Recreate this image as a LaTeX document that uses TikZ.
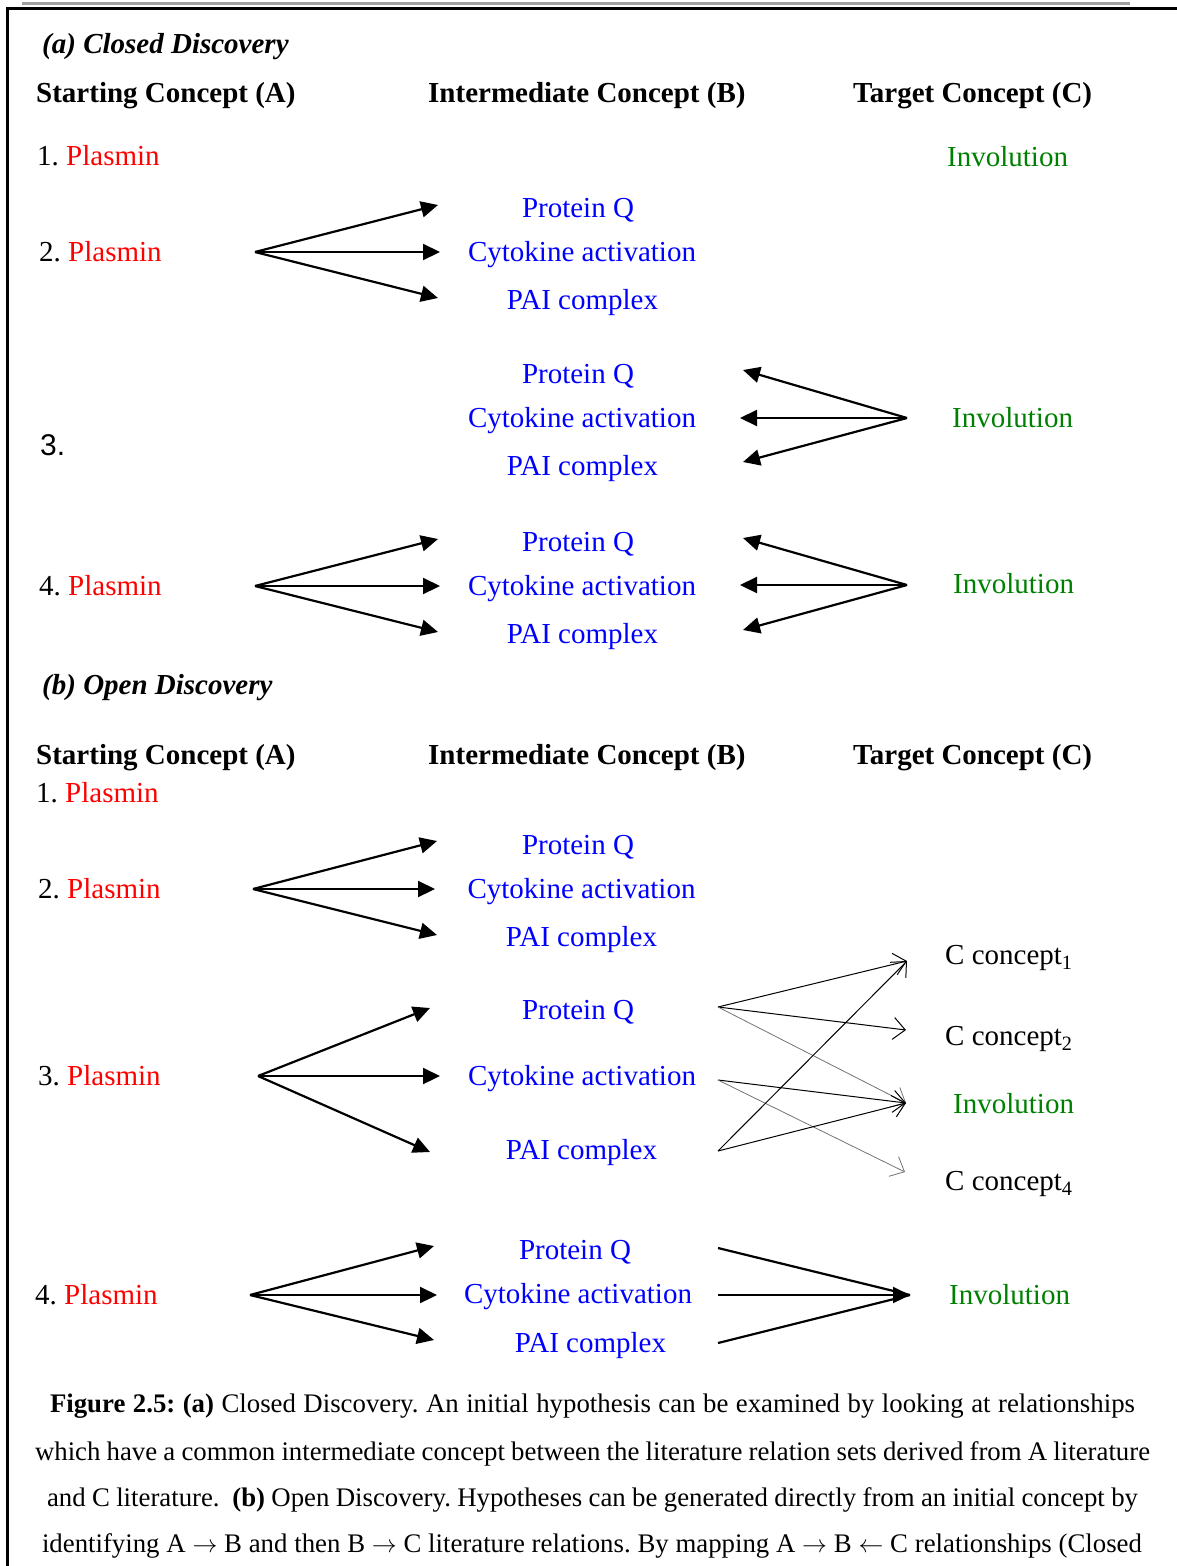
\documentclass[tikz,border=0pt]{standalone}
\usepackage{fontspec}
\setmainfont{Liberation Serif}
\newfontfamily\arialfont{Liberation Sans}
\usetikzlibrary{arrows.meta}
\definecolor{plasred}{RGB}{255,0,0}
\definecolor{conblue}{RGB}{0,0,255}
\definecolor{invgreen}{RGB}{0,128,0}
\definecolor{rulegray}{RGB}{160,160,160}

\begin{document}
\frenchspacing
\begin{tikzpicture}[x=1pt,y=-1pt,
  lbl/.style={inner sep=0pt, font=\fontsize{29}{34}\selectfont, text height=19pt, text depth=0pt},
  hdr/.style={lbl, anchor=west, font=\fontsize{29}{34}\selectfont\bfseries},
  sect/.style={lbl, anchor=west, font=\fontsize{29}{34}\selectfont\bfseries\itshape},
  startc/.style={lbl, anchor=west},
  midc/.style={lbl, text=conblue},
  targ/.style={lbl, anchor=west, text=invgreen},
  cc/.style={lbl, anchor=west},
  captionline/.style={inner sep=0pt, font=\fontsize{26.8}{31}\selectfont, text height=18pt, text depth=0pt},
  fat/.style={line width=2.2pt, -{Triangle[length=17pt,width=16pt]}},
  fatplain/.style={line width=2.2pt},
  thinarr/.style={line width=1pt, -{Straight Barb[length=12pt,width=22pt]}},
  thingray/.style={thinarr, draw=black!55, line width=0.8pt},
]
\useasboundingbox (0,0) rectangle (1176,1566);

% frame and top rule
\draw[rulegray, line width=3pt] (22,3) -- (1130,3);
\draw[line width=3pt] (6,8.5) -- (1180,8.5);
\draw[line width=2.5pt] (7.5,7) -- (7.5,1570);

% ---------------- (a) Closed discovery ----------------
\node[sect] (secA) at (42,44) {(a) Closed Discovery};
\node[hdr] (hA1) at (36,93) {Starting Concept (A)};
\node[hdr] (hB1) at (428,93) {Intermediate Concept (B)};
\node[hdr] (hC1) at (853,93) {Target Concept (C)};

% row 1
\node[startc] (a1) at (37,156) {1. \textcolor{plasred}{Plasmin}};
\node[targ] (c1) at (947,157) {Involution};

% row 2
\node[startc] (a2) at (39,252) {2. \textcolor{plasred}{Plasmin}};
\node[midc] (b2p) at (578,208) {Protein Q};
\node[midc] (b2c) at (582,252) {Cytokine activation};
\node[midc] (b2a) at (582.5,300) {PAI complex};
\coordinate (o2) at (255,252);
\coordinate (e2p) at (438,205);
\coordinate (e2c) at (440,252);
\coordinate (e2a) at (438,298);
\draw[fat] (o2) -- (e2p);
\draw[fat] (o2) -- (e2c);
\draw[fat] (o2) -- (e2a);

% row 3
\node[lbl, anchor=west, font=\fontsize{30}{34}\selectfont\arialfont, text height=21pt] (a3) at (40,445) {3.};
\node[midc] (b3p) at (578,374) {Protein Q};
\node[midc] (b3c) at (582,418) {Cytokine activation};
\node[midc] (b3a) at (582.5,466) {PAI complex};
\node[targ] (c3) at (952,418) {Involution};
\coordinate (o3) at (907,418);
\coordinate (e3p) at (743,370);
\coordinate (e3c) at (740,418);
\coordinate (e3a) at (743,462);
\draw[fat] (o3) -- (e3p);
\draw[fat] (o3) -- (e3c);
\draw[fat] (o3) -- (e3a);

% row 4
\node[startc] (a4) at (39,586) {4. \textcolor{plasred}{Plasmin}};
\node[midc] (b4p) at (578,542) {Protein Q};
\node[midc] (b4c) at (582,586) {Cytokine activation};
\node[midc] (b4a) at (582.5,634) {PAI complex};
\node[targ] (c4) at (953,584) {Involution};
\coordinate (o4l) at (255,586);
\coordinate (e4lp) at (438,539);
\coordinate (e4lc) at (440,586);
\coordinate (e4la) at (438,632);
\draw[fat] (o4l) -- (e4lp);
\draw[fat] (o4l) -- (e4lc);
\draw[fat] (o4l) -- (e4la);
\coordinate (o4r) at (907,585);
\coordinate (e4rp) at (743,538);
\coordinate (e4rc) at (740,585);
\coordinate (e4ra) at (743,630);
\draw[fat] (o4r) -- (e4rp);
\draw[fat] (o4r) -- (e4rc);
\draw[fat] (o4r) -- (e4ra);

% ---------------- (b) Open discovery ----------------
\node[sect] (secB) at (42,685) {(b) Open Discovery};
\node[hdr] (hA2) at (36,755) {Starting Concept (A)};
\node[hdr] (hB2) at (428,755) {Intermediate Concept (B)};
\node[hdr] (hC2) at (853,755) {Target Concept (C)};

% row 1
\node[startc] (p1) at (36,793) {1. \textcolor{plasred}{Plasmin}};

% row 2
\node[startc] (p2) at (38,889) {2. \textcolor{plasred}{Plasmin}};
\node[midc] (q2p) at (578,845) {Protein Q};
\node[midc] (q2c) at (581.5,889) {Cytokine activation};
\node[midc] (q2a) at (581.5,937) {PAI complex};
\coordinate (f2) at (253,889);
\coordinate (g2p) at (437,841);
\coordinate (g2c) at (435,889);
\coordinate (g2a) at (437,935);
\draw[fat] (f2) -- (g2p);
\draw[fat] (f2) -- (g2c);
\draw[fat] (f2) -- (g2a);

% row 3
\node[startc] (p3) at (38,1076) {3. \textcolor{plasred}{Plasmin}};
\node[midc] (q3p) at (578,1010) {Protein Q};
\node[midc] (q3c) at (582,1076) {Cytokine activation};
\node[midc] (q3a) at (581.5,1150) {PAI complex};
\coordinate (f3) at (258,1076);
\coordinate (g3p) at (430,1008);
\coordinate (g3c) at (440,1076);
\coordinate (g3a) at (430,1152);
\draw[fat] (f3) -- (g3p);
\draw[fat] (f3) -- (g3c);
\draw[fat] (f3) -- (g3a);

\node[cc] (t1) at (945,955) {C concept\textsubscript{1}};
\node[cc] (t2) at (945,1036) {C concept\textsubscript{2}};
\node[targ] (t3) at (953,1104) {Involution};
\node[cc] (t4) at (945,1181) {C concept\textsubscript{4}};

\coordinate (sp) at (718,1007);
\coordinate (sc) at (718,1080);
\coordinate (sa) at (718,1151);
\coordinate (u1) at (907,961);
\coordinate (u2) at (906,1030);
\coordinate (u3) at (906,1103);
\coordinate (u4) at (905,1172);
\draw[thinarr] (sp) -- (u1);
\draw[thinarr] (sp) -- (u2);
\draw[thingray] (sp) -- (u3);
\draw[thinarr] (sc) -- (u3);
\draw[thingray] (sc) -- (u4);
\draw[thinarr] (sa) -- (u1);
\draw[thinarr] (sa) -- (u3);

% row 4
\node[startc] (p4) at (35,1295) {4. \textcolor{plasred}{Plasmin}};
\node[midc] (q4p) at (575,1250) {Protein Q};
\node[midc] (q4c) at (578,1294) {Cytokine activation};
\node[midc] (q4a) at (590.5,1343) {PAI complex};
\node[targ] (t5) at (949,1295) {Involution};
\coordinate (f4) at (250,1295);
\coordinate (g4p) at (434,1246);
\coordinate (g4c) at (437,1295);
\coordinate (g4a) at (434,1340);
\draw[fat] (f4) -- (g4p);
\draw[fat] (f4) -- (g4c);
\draw[fat] (f4) -- (g4a);
\coordinate (h4p) at (718,1248);
\coordinate (h4c) at (718,1295);
\coordinate (h4a) at (718,1343);
\coordinate (k4) at (910,1295);
\draw[fatplain] (h4p) -- (k4);
\draw[fatplain] (h4a) -- (k4);
\draw[fat] (h4c) -- (k4);

% ---------------- caption ----------------
\node[captionline] (cap1) at (592.5,1403) {\makebox[1085pt][s]{\textbf{Figure 2.5:} \textbf{(a)} Closed Discovery. An initial hypothesis can be examined by looking at relationships}};
\node[captionline] (cap2) at (592.5,1451) {\makebox[1115pt][s]{which have a common intermediate concept between the literature relation sets derived from A literature}};
\node[captionline] (cap3) at (592.5,1497) {\makebox[1091pt][s]{and C literature.\ \ \textbf{(b)} Open Discovery. Hypotheses can be generated directly from an initial concept by}};
\node[captionline] (cap4) at (592,1543) {\makebox[1100pt][s]{identifying A $\rightarrow$ B and then B $\rightarrow$ C literature relations. By mapping A $\rightarrow$ B $\leftarrow$ C relationships (Closed}};
\end{tikzpicture}
\end{document}
